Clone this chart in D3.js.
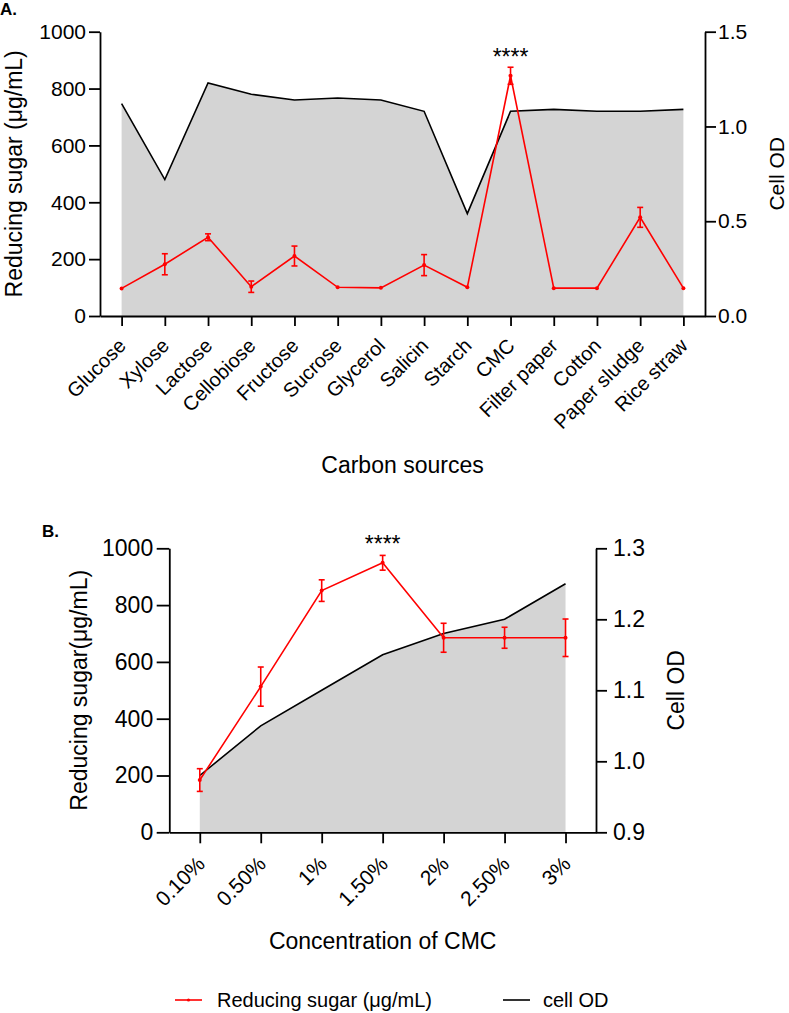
<!DOCTYPE html>
<html>
<head>
<meta charset="utf-8">
<script src="https://cdn.jsdelivr.net/npm/d3@7"></script>
<style>
  body { margin: 0; background: #fff; }
  svg { font-family: "Liberation Sans", Arial, sans-serif; }
</style>
</head>
<body>
<script>
// panel A: carbon sources
const carbonSources = ['Glucose', 'Xylose', 'Lactose', 'Cellobiose', 'Fructose', 'Sucrose', 'Glycerol',
  'Salicin', 'Starch', 'CMC', 'Filter paper', 'Cotton', 'Paper sludge', 'Rice straw'];
const cellODA = [1.12, 0.72, 1.23, 1.17, 1.14, 1.15, 1.14, 1.08, 0.54, 1.08, 1.09, 1.08, 1.08, 1.09];
const sugarA = [97, 182, 277, 103, 211, 101, 99, 179, 101, 845, 98, 98, 347, 98];
const sugarAErr = [0, 37, 12, 20, 35, 0, 0, 37, 0, 30, 0, 0, 35, 0];
const sugarTicksA = [0, 200, 400, 600, 800, 1000];
const odTicksA = [0, 0.5, 1.0, 1.5];

// panel B: CMC concentration
const cmcConc = ['0.10%', '0.50%', '1%', '1.50%', '2%', '2.50%', '3%'];
const cellODB = [0.98, 1.05, 1.10, 1.15, 1.18, 1.20, 1.25];
const sugarB = [184, 513, 851, 949, 685, 685, 685];
const sugarBErr = [40, 69, 38, 26, 51, 37, 66];
const sugarTicksB = [0, 200, 400, 600, 800, 1000];
const odTicksB = [0.9, 1.0, 1.1, 1.2, 1.3];

const width = 789;
const height = 1013;

const svg = d3.select('body').append('svg')
    .attr('width', width)
    .attr('height', height);

function drawPanel(p) {
    const x = d3.scalePoint().domain(p.cats).range([p.left, p.right]).padding(0.5);
    const yL = d3.scaleLinear().domain([0, 1000]).range([p.bottom, p.top]);
    const yR = d3.scaleLinear().domain(p.odDomain).range([p.bottom, p.top]);

    const g = svg.append('g');

    // grey area under cell OD
    const area = d3.area()
        .x((d, i) => x(p.cats[i]))
        .y0(p.bottom)
        .y1(d => yR(d));
    g.append('path')
        .datum(p.od)
        .attr('d', area)
        .attr('fill', '#d4d4d4');

    const odLine = d3.line()
        .x((d, i) => x(p.cats[i]))
        .y(d => yR(d));
    g.append('path')
        .datum(p.od)
        .attr('d', odLine)
        .attr('fill', 'none')
        .attr('stroke', '#000')
        .attr('stroke-width', 1.6);

    // axes
    const left = g.append('g')
        .attr('transform', `translate(${p.left},0)`)
        .call(d3.axisLeft(yL).tickValues(p.sugarTicks).tickSize(p.tickL).tickSizeOuter(0).tickPadding(p.padL)
            .tickFormat(d3.format('d')));
    const right = g.append('g')
        .attr('transform', `translate(${p.right},0)`)
        .call(d3.axisRight(yR).tickValues(p.odTicks).tickSize(11).tickSizeOuter(0).tickPadding(p.padR)
            .tickFormat(d3.format('.1f')));
    const bottom = g.append('g')
        .attr('transform', `translate(0,${p.bottom})`)
        .call(d3.axisBottom(x).tickSize(p.tickB).tickSizeOuter(0));

    [left, right, bottom].forEach(a => {
        a.selectAll('path, line').attr('stroke', '#000').attr('stroke-width', 1.8);
        a.selectAll('text').attr('fill', '#000');
    });
    [left, right].forEach(a => a.selectAll('text').style('font-size', p.yFont + 'px'));
    bottom.selectAll('text')
        .style('font-size', p.xFont + 'px')
        .attr('text-anchor', 'end')
        .attr('y', 0)
        .attr('dy', 0)
        .attr('transform', `translate(${p.labDx},${p.labDy}) rotate(-45)`);

    // reducing sugar with error bars
    const sugarLine = d3.line()
        .x((d, i) => x(p.cats[i]))
        .y(d => yL(d));
    g.append('path')
        .datum(p.sugar)
        .attr('d', sugarLine)
        .attr('fill', 'none')
        .attr('stroke', 'red')
        .attr('stroke-width', 1.6);

    const err = g.selectAll('.err')
        .data(p.sugar.map((d, i) => ({c: p.cats[i], v: d, e: p.err[i]})).filter(d => d.e > 0))
        .enter()
        .append('g')
        .attr('class', 'err')
        .attr('stroke', 'red')
        .attr('stroke-width', 1.6);
    err.append('line')
        .attr('x1', d => x(d.c)).attr('x2', d => x(d.c))
        .attr('y1', d => yL(d.v - d.e)).attr('y2', d => yL(d.v + d.e));
    err.append('line')
        .attr('x1', d => x(d.c) - 3).attr('x2', d => x(d.c) + 3)
        .attr('y1', d => yL(d.v + d.e)).attr('y2', d => yL(d.v + d.e));
    err.append('line')
        .attr('x1', d => x(d.c) - 3).attr('x2', d => x(d.c) + 3)
        .attr('y1', d => yL(d.v - d.e)).attr('y2', d => yL(d.v - d.e));

    g.selectAll('.dot')
        .data(p.sugar)
        .enter()
        .append('circle')
        .attr('cx', (d, i) => x(p.cats[i]))
        .attr('cy', d => yL(d))
        .attr('r', 2)
        .attr('fill', 'red');

    // significance mark
    g.append('text')
        .text('****')
        .attr('x', x(p.starAt))
        .attr('y', p.starY)
        .attr('text-anchor', 'middle')
        .style('font-size', '23px');

    // axis titles
    g.append('text')
        .text(p.yTitle)
        .attr('transform', `translate(${p.yTitleX},${(p.top + p.bottom) / 2}) rotate(-90)`)
        .attr('text-anchor', 'middle')
        .style('font-size', '23px');
    g.append('text')
        .text('Cell OD')
        .attr('transform', `translate(${p.odTitleX},${(p.top + p.bottom) / 2}) rotate(-90)`)
        .attr('text-anchor', 'middle')
        .style('font-size', p.odFont + 'px');
    g.append('text')
        .text(p.xTitle)
        .attr('x', (p.left + p.right) / 2)
        .attr('y', p.xTitleY)
        .attr('text-anchor', 'middle')
        .style('font-size', '23px');

    g.append('text')
        .text(p.tag)
        .attr('x', p.tagX)
        .attr('y', p.tagY)
        .style('font-size', '17px')
        .style('font-weight', 'bold');
}

drawPanel({
    cats: carbonSources, od: cellODA, sugar: sugarA, err: sugarAErr,
    sugarTicks: sugarTicksA, odTicks: odTicksA, odDomain: [0, 1.5],
    left: 100, right: 705, top: 31.7, bottom: 316,
    tickL: 11, padL: 3, padR: 2, tickB: 10, yFont: 21, xFont: 20,
    labDx: 5, labDy: 31, starAt: 'CMC', starY: 65,
    yTitle: 'Reducing sugar (\u03bcg/mL)', yTitleX: 22, odTitleX: 784, odFont: 21,
    xTitle: 'Carbon sources', xTitleY: 473, tag: 'A.', tagX: 0, tagY: 15
});

drawPanel({
    cats: cmcConc, od: cellODB, sugar: sugarB, err: sugarBErr,
    sugarTicks: sugarTicksB, odTicks: odTicksB, odDomain: [0.9, 1.3],
    left: 169.3, right: 596, top: 548.3, bottom: 832.3,
    tickL: 12.6, padL: 3.5, padR: 6, tickB: 11, yFont: 23, xFont: 21,
    labDx: 6, labDy: 33, starAt: '1.50%', starY: 552,
    yTitle: 'Reducing sugar(\u03bcg/mL)', yTitleX: 87, odTitleX: 684, odFont: 23,
    xTitle: 'Concentration of CMC', xTitleY: 949, tag: 'B.', tagX: 42, tagY: 537
});

// legend
const legend = svg.append('g').attr('transform', 'translate(0,1000)');
legend.append('line')
    .attr('x1', 175).attr('x2', 202).attr('y1', 0).attr('y2', 0)
    .attr('stroke', 'red').attr('stroke-width', 1.6);
legend.append('circle')
    .attr('cx', 188.5).attr('cy', 0).attr('r', 1.6).attr('fill', 'red');
legend.append('text')
    .text('Reducing sugar (\u03bcg/mL)')
    .attr('x', 217).attr('y', 0).attr('dy', '0.35em')
    .style('font-size', '20px');
legend.append('line')
    .attr('x1', 503).attr('x2', 530).attr('y1', 0).attr('y2', 0)
    .attr('stroke', '#000').attr('stroke-width', 1.6);
legend.append('text')
    .text('cell OD')
    .attr('x', 543).attr('y', 0).attr('dy', '0.35em')
    .style('font-size', '20px');
</script>
</body>
</html>
